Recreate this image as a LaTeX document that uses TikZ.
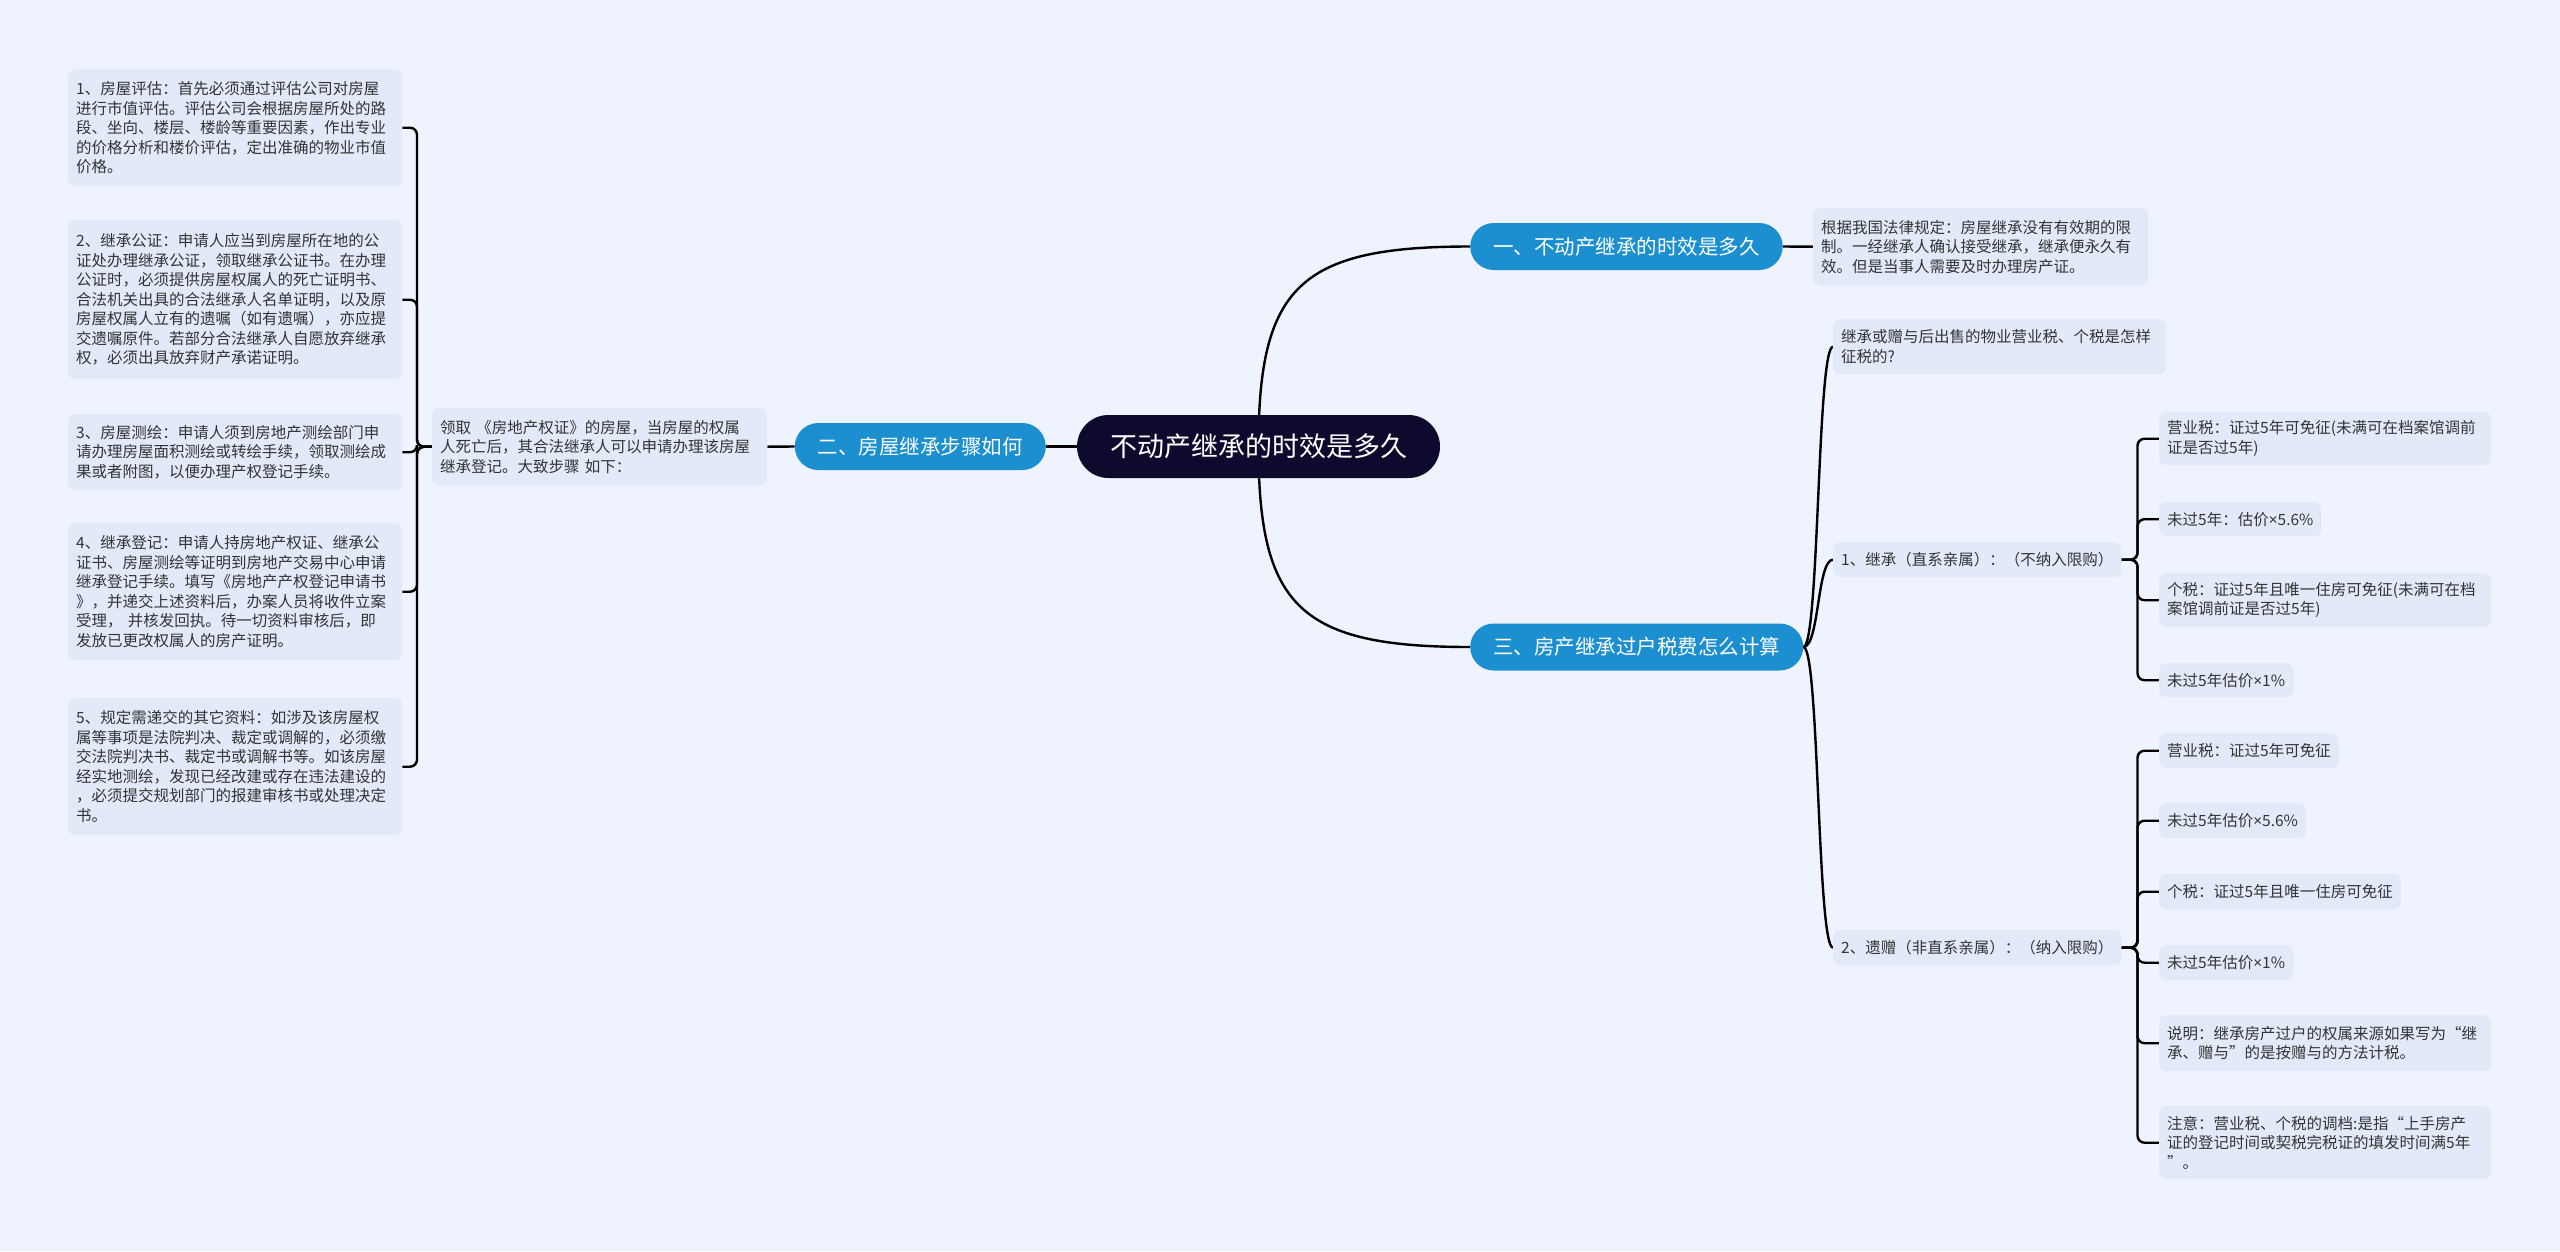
\documentclass[tikz,border=0pt]{standalone}
\usepackage{fontspec}
\setmainfont{Noto Sans CJK SC}
\newfontfamily\latinx{Noto Sans}
\newcommand{\tms}{{\latinx ×}}
\usetikzlibrary{backgrounds}
\definecolor{bgc}{HTML}{EEF3FD}
\definecolor{leafc}{HTML}{E2EAFA}
\definecolor{brc}{HTML}{1C8FD1}
\definecolor{rootc}{HTML}{0D0A2D}
\definecolor{txtc}{HTML}{333333}
\tikzset{
  conn/.style={draw=black, line width=2.4pt},
  leaf/.style={fill=leafc, rounded corners=7pt, text=txtc, align=left, inner xsep=8pt, inner ysep=4pt,
    font=\fontsize{15.5pt}{19.5pt}\selectfont, anchor=north west},
  brnode/.style={fill=brc, rounded corners=23.5pt, text=white, minimum height=47pt, inner xsep=23pt,
    inner ysep=0pt, font=\fontsize{20.5pt}{24pt}\selectfont},
  rootnode/.style={fill=rootc, rounded corners=31.5pt, text=white, minimum width=363pt,
    minimum height=63pt, inner sep=0pt, font=\fontsize{27pt}{32pt}\selectfont},
}
\begin{document}
\begin{tikzpicture}[x=1pt,y=-1pt]
\useasboundingbox (0,0) rectangle (2560,1251);
% root and branches
\node[rootnode] (root) at (1258.5,446.5) {不动产继承的时效是多久};
\node[brnode, anchor=west] (b1) at (1470,246.5) {一、不动产继承的时效是多久};
\node[brnode, anchor=east] (b2) at (1046,446.5) {二、房屋继承步骤如何};
\node[brnode, anchor=west] (b3) at (1470,647) {三、房产继承过户税费怎么计算};
% branch 1 leaf
\node[leaf, text width=319pt, minimum height=77pt] (r1) at (1813,208) {根据我国法律规定：房屋继承没有有效期的限\\制。一经继承人确认接受继承，继承便永久有\\效。但是当事人需要及时办理房产证。};
% branch 2
\node[leaf, text width=319pt, minimum height=77pt] (mid) at (432,408) {领取 《房地产权证》的房屋，当房屋的权属\\人死亡后，其合法继承人可以申请办理该房屋\\继承登记。大致步骤 如下：};
\node[leaf, text width=318pt, minimum height=117pt] (l1) at (68,69) {1、房屋评估：首先必须通过评估公司对房屋\\进行市值评估。评估公司会根据房屋所处的路\\段、坐向、楼层、楼龄等重要因素，作出专业\\的价格分析和楼价评估，定出准确的物业市值\\价格。};
\node[leaf, text width=318pt, minimum height=159pt] (l2) at (68,220) {2、继承公证：申请人应当到房屋所在地的公\\证处办理继承公证，领取继承公证书。在办理\\公证时，必须提供房屋权属人的死亡证明书、\\合法机关出具的合法继承人名单证明，以及原\\房屋权属人立有的遗嘱（如有遗嘱），亦应提\\交遗嘱原件。若部分合法继承人自愿放弃继承\\权，必须出具放弃财产承诺证明。};
\node[leaf, text width=318pt, minimum height=76pt] (l3) at (68,414) {3、房屋测绘：申请人须到房地产测绘部门申\\请办理房屋面积测绘或转绘手续，领取测绘成\\果或者附图，以便办理产权登记手续。};
\node[leaf, text width=318pt, minimum height=137pt] (l4) at (68,523) {4、继承登记：申请人持房地产权证、继承公\\证书、房屋测绘等证明到房地产交易中心申请\\继承登记手续。填写《房地产产权登记申请书\\》，并递交上述资料后，办案人员将收件立案\\受理，  并核发回执。待一切资料审核后，即\\发放已更改权属人的房产证明。};
\node[leaf, text width=318pt, minimum height=137pt] (l5) at (68,698) {5、规定需递交的其它资料：如涉及该房屋权\\属等事项是法院判决、裁定或调解的，必须缴\\交法院判决书、裁定书或调解书等。如该房屋\\经实地测绘，发现已经改建或存在违法建设的\\，必须提交规划部门的报建审核书或处理决定\\书。};
% branch 3
\node[leaf, text width=317pt, minimum height=55pt] (q) at (1833,319) {继承或赠与后出售的物业营业税、个税是怎样\\征税的?};
\node[leaf, minimum height=35pt] (ca) at (1833,542) {1、继承（直系亲属）：（不纳入限购）};
\node[leaf, minimum height=35pt] (cb) at (1833,930) {2、遗赠（非直系亲属）：（纳入限购）};
\node[leaf, text width=316pt, minimum height=53pt] (a1) at (2159,412) {营业税：证过5年可免征(未满可在档案馆调前\\证是否过5年)};
\node[leaf, minimum height=34pt] (a2) at (2159,502) {未过5年：估价\tms5.6\%};
\node[leaf, text width=316pt, minimum height=54pt] (a3) at (2159,573) {个税：证过5年且唯一住房可免征(未满可在档\\案馆调前证是否过5年)};
\node[leaf, minimum height=34pt] (a4) at (2159,663) {未过5年估价\tms1\%};
\node[leaf, minimum height=35pt] (bb1) at (2159,733) {营业税：证过5年可免征};
\node[leaf, minimum height=35pt] (bb2) at (2159,803) {未过5年估价\tms5.6\%};
\node[leaf, minimum height=35pt] (bb3) at (2159,874) {个税：证过5年且唯一住房可免征};
\node[leaf, minimum height=35pt] (bb4) at (2159,945) {未过5年估价\tms1\%};
\node[leaf, text width=316pt, minimum height=56pt] (bb5) at (2159,1015) {说明：继承房产过户的权属来源如果写为“继\\承、赠与”的是按赠与的方法计税。};
\node[leaf, text width=316pt, minimum height=73pt] (bb6) at (2159,1106) {注意：营业税、个税的调档:是指“上手房产\\证的登记时间或契税完税证的填发时间满5年\\”。};
% connectors and background
\begin{scope}[on background layer]
\fill[bgc] (0,0) rectangle (2560,1251);
\draw[conn] (root.center) .. controls +(0,-160) and +(-170,0) .. (b1.west);
\draw[conn] (root.center) .. controls +(0,160) and +(-170,0) .. (b3.west);
\draw[conn] (root.west) -- (b2.east);
\draw[conn] (b1.east) -- (r1.west);
\draw[conn] (b2.west) -- (mid.east);
\foreach \n in {l1,l2,l3,l4,l5}
  \draw[conn, rounded corners=7pt] (mid.west) -- ++(-15,0) |- (\n.east);
\foreach \n in {q,ca,cb}
  \draw[conn] (b3.east) .. controls +(16,0) and +(-16,0) .. (\n.west);
\foreach \n in {a1,a2,a3,a4}
  \draw[conn, rounded corners=7pt] (ca.east) -- ++(16,0) |- (\n.west);
\foreach \n in {bb1,bb2,bb3,bb4,bb5,bb6}
  \draw[conn, rounded corners=7pt] (cb.east) -- ++(16,0) |- (\n.west);
\end{scope}
\end{tikzpicture}
\end{document}
